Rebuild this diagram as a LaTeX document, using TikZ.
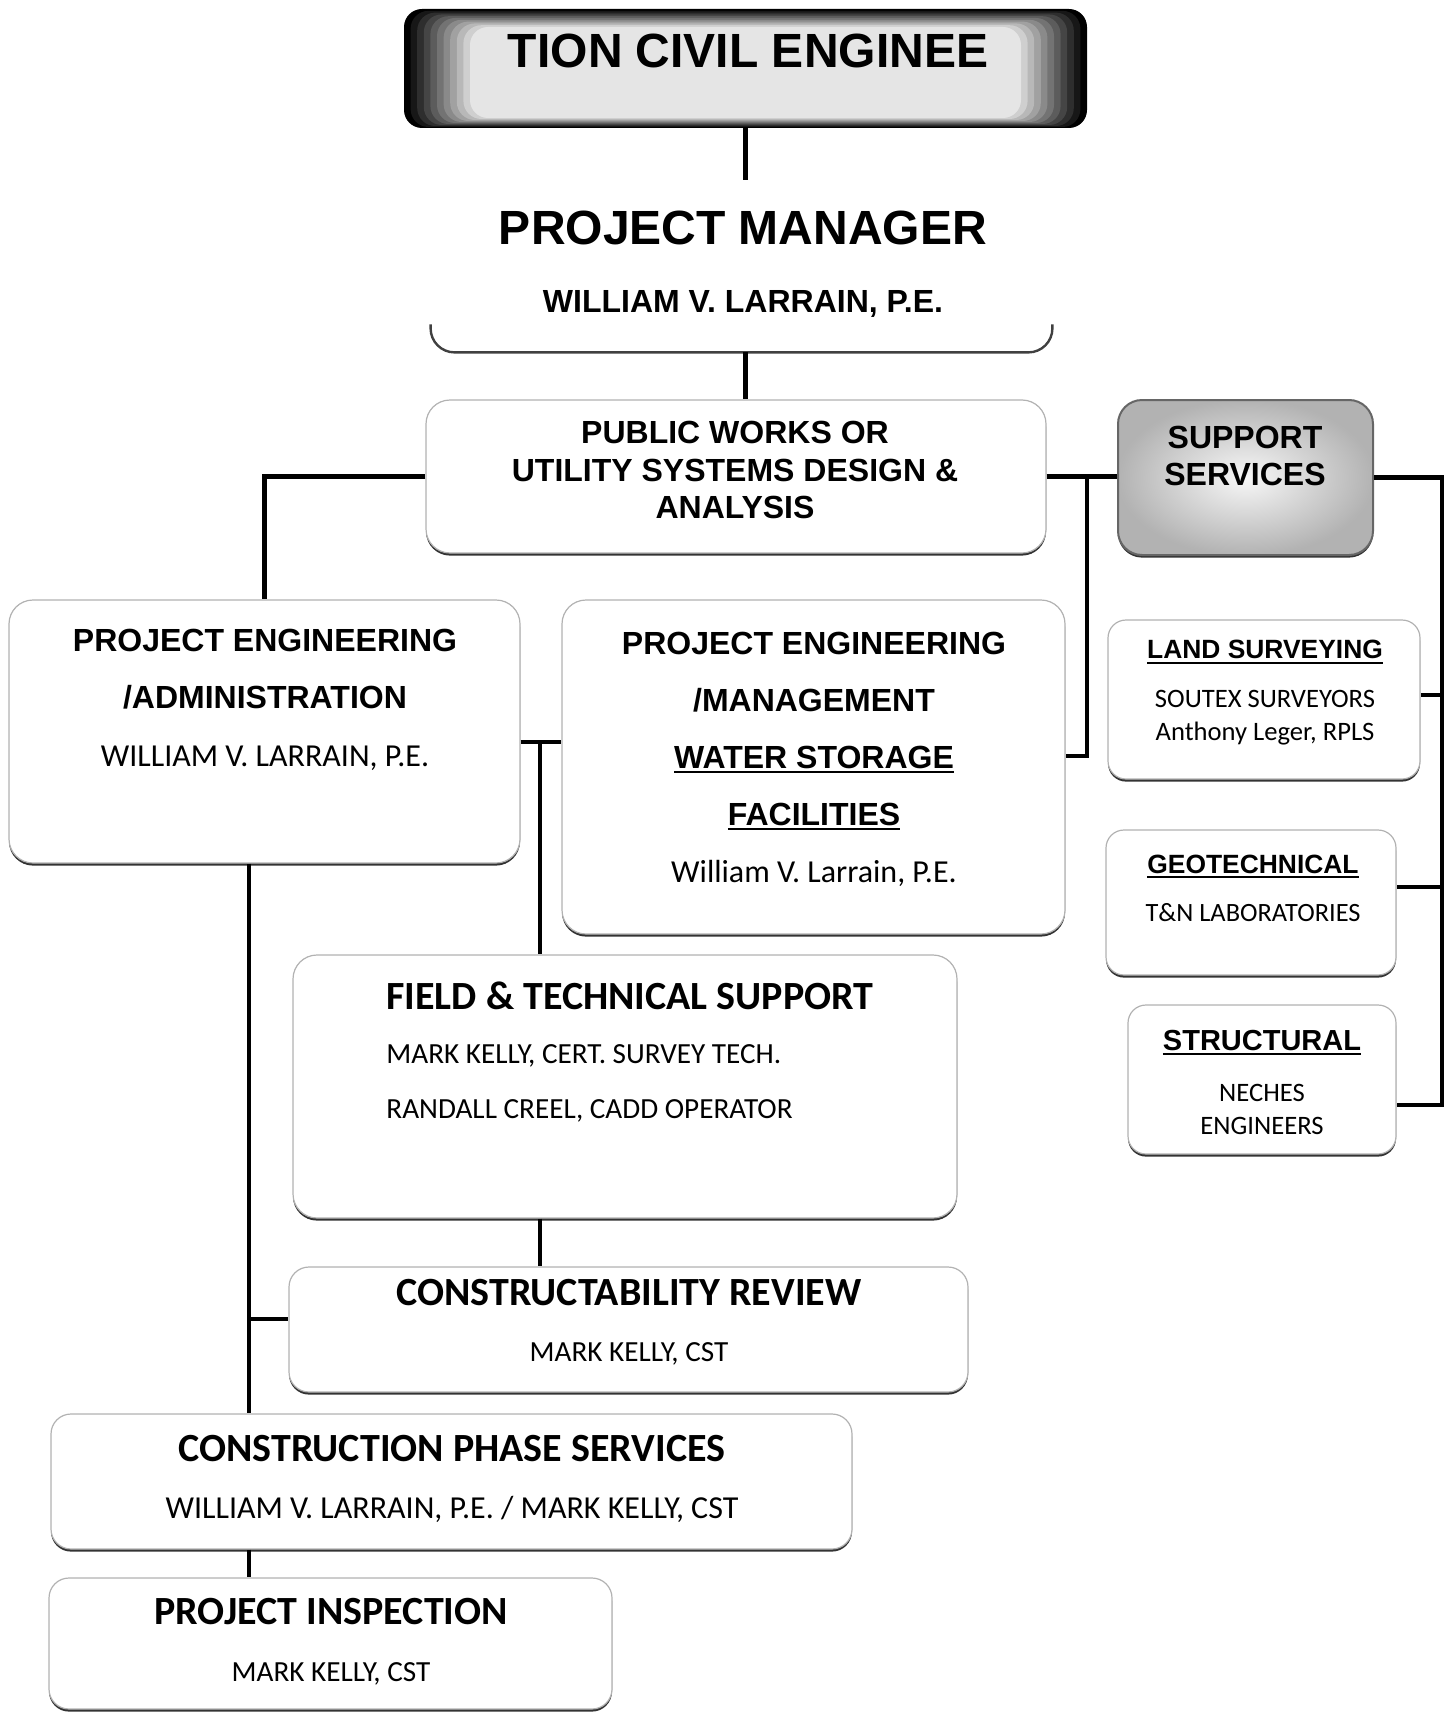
\documentclass[tikz,border=0pt]{standalone}
\usepackage{fontspec}
\setsansfont{Liberation Sans}
\newfontfamily\calfont{Carlito}
\usetikzlibrary{shadows}
\newcommand{\arialb}[2]{\fontsize{#1}{#2}\selectfont\sffamily\bfseries}
\newcommand{\calr}[2]{\fontsize{#1}{#2}\selectfont\calfont\mdseries}
\newcommand{\calb}[2]{\fontsize{#1}{#2}\selectfont\calfont\bfseries}
\newcommand{\uln}[1]{\setbox0\hbox{#1}\rlap{\rule[-2.4pt]{\wd0}{1.1pt}}\box0}
\begin{document}
\begin{tikzpicture}[x=0.5pt,y=-0.5pt,
    box/.style={draw=black!30,line width=0.6pt,fill=white,rounded corners=12pt,inner sep=0pt,
      drop shadow={shadow xshift=0pt,shadow yshift=-1.3pt,fill=black!80,opacity=1}},
    small box/.style={box,rounded corners=9pt},
    txt/.style={inner sep=0pt,align=center},
    link/.style={line width=2.3pt}]
\useasboundingbox (0,0) rectangle (1447,1712);

\node[fill=black,rounded corners=9pt,minimum width=341.5pt,minimum height=59.5pt,inner sep=0pt] (div) at (745.5,68.5) {};
\foreach \i in {1,...,10}{
  \pgfmathtruncatemacro{\g}{100-9*\i}
  \fill[black!\g,rounded corners=9pt] (404+6.6*\i,9+1.8*\i) rectangle (1087-6.6*\i,128-1.0*\i);
}
\node[txt,font={\arialb{24}{24}}] (divt) at (748,51) {TION CIVIL ENGINEE};

\node[minimum width=310.5pt,minimum height=86pt,inner sep=0pt] (pm) at (741.5,266) {};
\draw[black!75,line width=1.2pt,rounded corners=12pt] ([yshift=14pt]pm.south west) -- (pm.south west) -- (pm.south east) -- ([yshift=14pt]pm.south east);
\node[txt,font={\arialb{24}{24}}] (pmt) at (743,228) {PROJECT MANAGER};
\node[txt,font={\arialb{16}{16}}] (pmn) at (743,304) {WILLIAM V. LARRAIN, P.E.};

\node[box,minimum width=310pt,minimum height=76.5pt] (pw) at (736,476.5) {};
\node[txt,font={\arialb{16}{18.75}}] (pwt) at (735,470) {PUBLIC WORKS OR\\UTILITY SYSTEMS DESIGN \&\\ANALYSIS};

\node[box,draw=black!60,line width=1pt,inner color=black!3,outer color=black!30,minimum width=127.5pt,minimum height=77.5pt] (ss) at (1245.5,477.5) {};
\node[txt,font={\arialb{16}{18.5}}] (sst) at (1245,455.5) {SUPPORT\\SERVICES};

\node[small box,minimum width=156pt,minimum height=79.5pt] (land) at (1264,699.5) {};
\node[txt,font={\calr{13.3}{16.5}}] (landt) at (1265,693) {\arialb{13.2}{16.5}\uln{LAND SURVEYING}\\[8pt]SOUTEX SURVEYORS\\Anthony Leger, RPLS};

\node[small box,minimum width=145pt,minimum height=72.5pt] (geo) at (1251,902.5) {};
\node[txt,font={\calr{13.2}{24}}] (geot) at (1253,888) {\arialb{13.2}{24}\uln{GEOTECHNICAL}\\T\&N LABORATORIES};

\node[small box,minimum width=134pt,minimum height=74.5pt] (struct) at (1262,1079.5) {};
\node[txt,font={\calr{13.3}{16.5}}] (structt) at (1262,1082) {\arialb{14.5}{16.5}\uln{STRUCTURAL}\\[9pt]NECHES\\ENGINEERS};

\node[box,minimum width=255.5pt,minimum height=131.5pt] (admin) at (264.5,731.5) {};
\node[txt,font={\arialb{16}{28.75}}] (admint) at (265,699.5) {PROJECT ENGINEERING\\/ADMINISTRATION\\\calr{16}{28.75}WILLIAM V. LARRAIN, P.E.};

\node[box,minimum width=251.5pt,minimum height=167pt] (mgmt) at (813.5,767) {};
\node[txt,font={\arialb{16}{28.5}}] (mgmtt) at (814,759) {PROJECT ENGINEERING\\/MANAGEMENT\\\uln{WATER STORAGE}\\\uln{FACILITIES}\\\calr{16}{28.5}William V. Larrain, P.E.};

\node[box,minimum width=332pt,minimum height=131.5pt] (field) at (625,1086.5) {};
\node[txt,align=left,anchor=west,font={\calr{14.6}{27.25}}] (fieldt) at (386,1052) {\calb{20}{27.25}FIELD \& TECHNICAL SUPPORT\\MARK KELLY, CERT. SURVEY TECH.\\RANDALL CREEL, CADD OPERATOR};

\node[box,rounded corners=10pt,minimum width=339.5pt,minimum height=62.5pt] (cr) at (628.5,1329.5) {};
\node[txt,font={\calr{14.6}{28}}] (crt) at (629,1322) {\calb{20}{28}CONSTRUCTABILITY REVIEW\\MARK KELLY, CST};

\node[box,rounded corners=10pt,minimum width=400.5pt,minimum height=67.5pt] (cps) at (451.5,1481.5) {};
\node[txt,font={\calr{16}{28.5}}] (cpst) at (452,1478.5) {\calb{20}{28.5}CONSTRUCTION PHASE SERVICES\\WILLIAM V. LARRAIN, P.E. / MARK KELLY, CST};

\node[box,rounded corners=10pt,minimum width=281.5pt,minimum height=65.5pt] (pi) at (330.5,1643.5) {};
\node[txt,font={\calr{14.6}{28.5}}] (pit) at (331,1641.5) {\calb{20}{28.5}PROJECT INSPECTION\\MARK KELLY, CST};

\coordinate (ssj) at (1087,476.5);
\coordinate (amj) at (540,742);
\coordinate (adj) at (249,1319);
\coordinate (bus1) at (1442,695);
\coordinate (bus2) at (1442,887);
\coordinate (bus3) at (1442,1105);

\draw[link] (div.south) -- (div.south |- pm.north);
\draw[link] (div.south |- pm.south) -- (div.south |- pw.north);
\draw[link] (pw.west) -| (admin.north);
\draw[link] (pw.east) -- (pw.east -| ss.west);
\draw[link] (ssj) |- ([yshift=5.5pt]mgmt.east);
\draw[link] (ss.east) -| (bus3) -- (bus3 -| struct.east);
\draw[link] (bus1) -- (bus1 -| land.east);
\draw[link] (bus2) -- (bus2 -| geo.east);
\draw[link] (amj -| admin.east) -- (amj -| mgmt.west);
\draw[link] (amj) -- (amj |- field.north);
\draw[link] (amj |- field.south) -- (amj |- cr.north);
\draw[link] (adj |- admin.south) -- (adj |- cps.north);
\draw[link] (adj) -- (adj -| cr.west);
\draw[link] (adj |- cps.south) -- (adj |- pi.north);
\end{tikzpicture}
\end{document}
